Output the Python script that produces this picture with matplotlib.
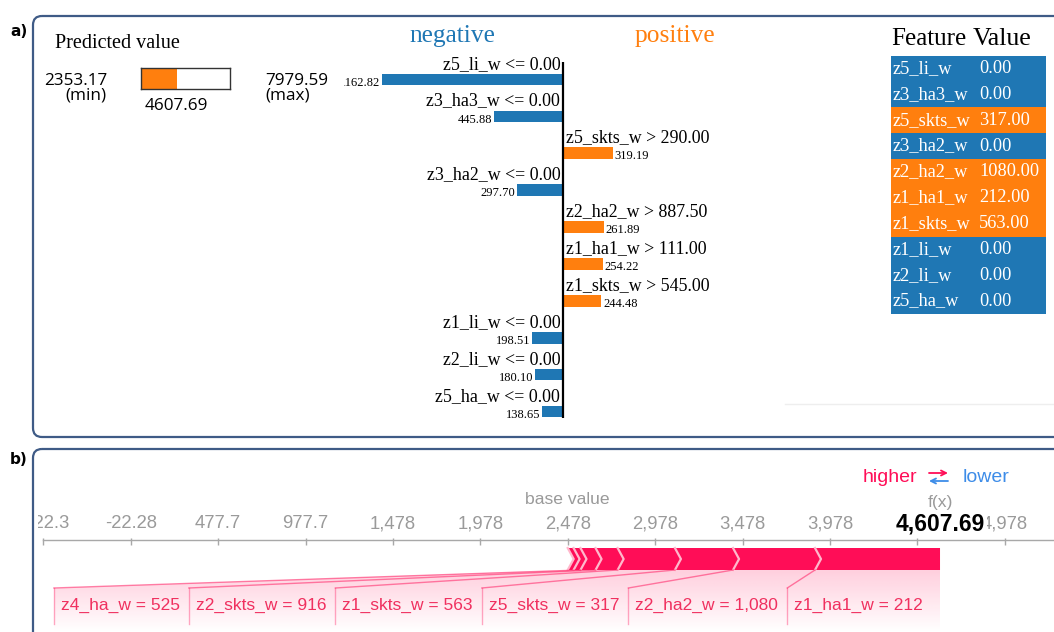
import numpy as np
import matplotlib.pyplot as plt
from matplotlib.patches import FancyBboxPatch, Polygon
from matplotlib.colors import to_rgb

# LIME explanation of one prediction
lime_rules = ['z5_li_w <= 0.00', 'z3_ha3_w <= 0.00', 'z5_skts_w > 290.00', 'z3_ha2_w <= 0.00',
              'z2_ha2_w > 887.50', 'z1_ha1_w > 111.00', 'z1_skts_w > 545.00',
              'z1_li_w <= 0.00', 'z2_li_w <= 0.00', 'z5_ha_w <= 0.00']
lime_weights = [-1162.82, -445.88, 319.19, -297.70, 261.89, 254.22, 244.48, -198.51, -180.10, -138.65]
table_features = ['z5_li_w', 'z3_ha3_w', 'z5_skts_w', 'z3_ha2_w', 'z2_ha2_w',
                  'z1_ha1_w', 'z1_skts_w', 'z1_li_w', 'z2_li_w', 'z5_ha_w']
table_values = [0.00, 0.00, 317.00, 0.00, 1080.00, 212.00, 563.00, 0.00, 0.00, 0.00]
pred_min = 2353.17
pred_max = 7979.59
pred_value = 4607.69

# SHAP force plot, positive contributions sorted by size
base_value = 2477.72
shap_values = [715.2, 468.9, 332.4, 327.8, 126.3, 86.1, 39.6, 33.67]
shap_features = ['z1_ha1_w', 'z2_ha2_w', 'z5_skts_w', 'z1_skts_w', 'z2_skts_w', 'z4_ha_w']
shap_inputs = [212, 1080, 317, 563, 916, 525]

BLUE = '#1f77b4'
ORANGE = '#ff7f0e'
RED = '#ff0d57'
LOW_BLUE = '#3d8ce8'
GREY = '#9a9a9a'
SERIF = 'Liberation Serif'
SANS = 'Liberation Sans'

W, H = 1054, 632
fig = plt.figure(figsize=(W / 100, H / 100), dpi=100)


def px_axes(x0, y0, x1, y1):
    ax = fig.add_axes([x0 / W, 1 - y1 / H, (x1 - x0) / W, (y1 - y0) / H])
    ax.patch.set_alpha(0)
    return ax


frame = px_axes(0, 0, W, H)
frame.set_xlim(0, W)
frame.set_ylim(H, 0)
frame.axis('off')

for y0, h in [(16, 421), (449, 400)]:
    frame.add_patch(FancyBboxPatch((33, y0), 1200, h, boxstyle='round,pad=0,rounding_size=9',
                                   fill=False, ec='#3f5b86', lw=1.6))
frame.text(10, 32, 'a)', fontsize=11, fontweight='bold', va='center')
frame.text(10, 459, 'b)', fontsize=11, fontweight='bold', va='center')
frame.plot([785, W], [404, 404], color='#eeeeee', lw=1)

# ---- a) predicted value box
frame.text(55, 43, 'Predicted value', family=SERIF, fontsize=14.5, va='center')
num_font = dict(family='Open Sans', fontsize=12.3, va='center')
frame.text(107, 81, '%.2f' % pred_min, ha='right', **num_font)
frame.text(107, 96, '(min)', ha='right', **num_font)
frame.text(265, 81, '%.2f' % pred_max, ha='left', **num_font)
frame.text(265, 96, '(max)', ha='left', **num_font)

pred_ax = px_axes(141, 68, 230, 89)
pred_ax.set_xlim(pred_min, pred_max)
pred_ax.set_ylim(0, 1)
pred_ax.barh(0.5, pred_value - pred_min, left=pred_min, height=1, color=ORANGE)
pred_ax.set_xticks([])
pred_ax.set_yticks([])
for sp in pred_ax.spines.values():
    sp.set_color('#333333')
    sp.set_linewidth(1.0)
pred_ax.annotate('%.2f' % pred_value, xy=(pred_value, 0), xycoords='data',
                 xytext=(0, -17), textcoords='offset pixels', ha='center', **num_font)

# ---- a) LIME weights
frame.text(452, 36, 'negative', family=SERIF, fontsize=18.3, color=BLUE, ha='center', va='center')
frame.text(675, 36, 'positive', family=SERIF, fontsize=18.3, color=ORANGE, ha='center', va='center')

n = len(lime_rules)
ys = np.arange(n)
lime_ax = px_axes(344, 45, 800, 425)
lime_ax.set_xlim(-(563.3 - 344) / 0.156, (800 - 563.3) / 0.156)
lime_ax.set_ylim(n - 1 + (425 - 411.7) / 36.93, -(79.3 - 45) / 36.93)
lime_ax.axis('off')
colors = [ORANGE if w > 0 else BLUE for w in lime_weights]
lime_ax.barh(ys, lime_weights, height=0.31, color=colors)
lime_ax.plot([0, 0], [-0.48, n - 1 + 0.18], color='black', lw=1.6, solid_capstyle='butt')
for y, rule, w in zip(ys, lime_rules, lime_weights):
    side = 1 if w > 0 else -1
    ha = 'left' if w > 0 else 'right'
    lime_ax.annotate(rule, xy=(0, y - 0.41), xytext=(3 * side, 0), textcoords='offset pixels',
                     ha=ha, va='center', family=SERIF, fontsize=12.9)
    lime_ax.annotate('%.2f' % abs(w), xy=(w, y + 0.09), xytext=(1.5 * side, 0),
                     textcoords='offset pixels', ha=ha, va='center', family=SERIF,
                     fontsize=9, annotation_clip=False, clip_on=True)

# ---- a) feature / value table
frame.text(891, 39, 'Feature', family=SERIF, fontsize=18, va='center')
frame.text(973, 39, 'Value', family=SERIF, fontsize=18.5, va='center')
tab_ax = px_axes(890.7, 55.7, 1046, 314)
tab_ax.set_xlim(0, 1)
tab_ax.set_ylim(n - 0.5, -0.5)
tab_ax.axis('off')
tab_ax.barh(ys, 1, left=0, height=1, color=colors)
for y, name, val in zip(ys, table_features, table_values):
    tab_ax.text(0.015, y, name, family=SERIF, fontsize=13.2, color='white', va='center')
    tab_ax.text(0.568, y, '%.2f' % val, family=SERIF, fontsize=13.2, color='white', va='center')

# ---- b) SHAP force plot
ppu = 0.1748
base_px = 567.7
f_x = base_value + sum(shap_values)
force_ax = px_axes(38, 449, W, H)
xlims = (base_value - (base_px - 38) / ppu, base_value + (W - base_px) / ppu)
force_ax.set_xlim(*xlims)
force_ax.set_ylim(H, 449)
force_ax.axis('off')

ticks = base_value + 500 * np.arange(-6, 6)
force_ax.plot([ticks[0], xlims[1]], [540, 540], color='#a8a8a8', lw=1)
force_ax.vlines(ticks, 538, 545, color='#a8a8a8', lw=1)
for t in ticks:
    # the tick label right under f(x) is covered by the output value
    if abs(t - f_x) < 60 / ppu:
        continue
    force_ax.text(t, 524, format(t, ',.4g'), ha='center', va='center', family=SANS,
                  fontsize=13.3, color=GREY, clip_on=True)
force_ax.text(base_value, 500, 'base value', ha='center', va='center', family=SANS,
              fontsize=12.6, color=GREY)
force_ax.text(f_x, 502, 'f(x)', ha='center', va='center', family=SANS, fontsize=12.6, color=GREY)
force_ax.text(f_x, 524, format(f_x, ',.2f'), ha='center', va='center', family=SANS,
              fontsize=16.5, fontweight='bold', color='black',
              bbox=dict(boxstyle='square,pad=0.12', fc='white', ec='none'))

frame.text(917, 477, 'higher', ha='right', va='center', family=SANS, fontsize=14, color=RED)
frame.text(963, 477, 'lower', ha='left', va='center', family=SANS, fontsize=14, color=LOW_BLUE)
frame.annotate('', xy=(948, 473), xytext=(929, 473),
               arrowprops=dict(arrowstyle='->', color=RED, lw=1.3, shrinkA=0, shrinkB=0,
                               mutation_scale=9))
frame.annotate('', xy=(929, 481), xytext=(948, 481),
               arrowprops=dict(arrowstyle='->', color=LOW_BLUE, lw=1.3, shrinkA=0, shrinkB=0,
                               mutation_scale=9))

# stacked chevron segments, from f(x) leftwards
top, mid, bot = 548, 559, 570
d = 6 / ppu
segs = []
right = f_x
for v in shap_values:
    segs.append((right - v, right))
    right -= v
bar_start = right
for a, b in segs:
    tip = b if b == f_x else b + d
    force_ax.add_patch(Polygon([(a, top), (b, top), (tip, mid), (b, bot), (a, bot), (a + d, mid)],
                               closed=True, fc=RED, ec='none'))
for a, b in segs:
    if b != f_x:
        force_ax.plot([b, b + d, b], [top, mid, bot], color='#ffb8cc', lw=1.6)
force_ax.plot([bar_start, bar_start + d, bar_start], [top, mid, bot], color='#ffb8cc', lw=1.6)

# feature labels, laid out right to left under the bar
renderer = fig.canvas.get_renderer()
inv = force_ax.transData.inverted()
to_px = lambda x: force_ax.transData.transform((x, 0))[0]
to_data = lambda p: inv.transform((p, 0))[0]
label_top, label_y = 588, 605
right_px = to_px(f_x) - 17
lines = []
for name, val in zip(shap_features, shap_inputs):
    txt = force_ax.text(to_data(right_px), label_y, '%s = %s' % (name, format(val, ',')),
                        ha='right', va='center', family=SANS, fontsize=12.5, color='#f0305f')
    w = txt.get_window_extent(renderer).width
    line_px = right_px - w - 7
    lines.append(to_data(line_px))
    right_px = line_px - 9

grad = np.zeros((120, 1, 4))
grad[:, 0, :3] = to_rgb(RED)
grad[:, 0, 3] = np.linspace(0.2, 0.0, 120)
for i, (L, (a, b)) in enumerate(zip(lines, segs)):
    top_left = bar_start if i == len(lines) - 1 else a
    if i == 0:
        right_side = [(f_x, H)]
    else:
        right_side = [(lines[i - 1], label_top), (lines[i - 1], H)]
    verts = [(top_left, bot), (b, bot)] + right_side + [(L, H), (L, label_top)]
    poly = Polygon(verts, closed=True, transform=force_ax.transData, fc='none', ec='none')
    force_ax.add_patch(poly)
    im = force_ax.imshow(grad, extent=(L, b, H, bot), aspect='auto', interpolation='bilinear',
                         zorder=0.5)
    im.set_clip_path(poly)
    force_ax.plot([L, L], [624, label_top], color=RED, alpha=0.35, lw=1)
    force_ax.plot([L, a], [label_top, bot], color=RED, alpha=0.5, lw=1)

force_ax.set_xlim(*xlims)
force_ax.set_ylim(H, 449)

fig.savefig('out.png', dpi=100)
